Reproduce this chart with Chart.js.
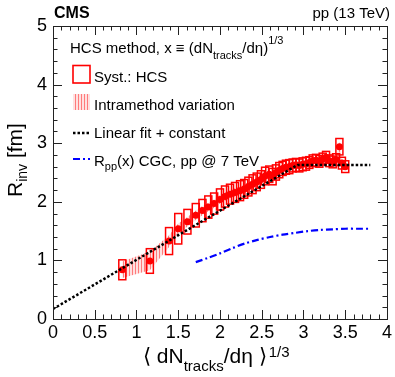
<!DOCTYPE html>
<html><head><meta charset="utf-8">
<script src="https://cdn.jsdelivr.net/npm/chart.js@4.4.1/dist/chart.umd.min.js"></script>
<style>html,body{margin:0;padding:0;background:#fff}#wrap{width:395px;height:377px}</style>
</head><body><div id="wrap"><canvas id="c" width="395" height="377"></canvas></div>
<script>
// ---- data ----
const hcsX = [0.83, 1.16, 1.39, 1.50, 1.61, 1.71, 1.79, 1.86, 1.93, 2.00, 2.06, 2.12, 2.18, 2.24, 2.29, 2.34, 2.39, 2.44, 2.49, 2.54, 2.59, 2.63, 2.67, 2.71, 2.75, 2.79, 2.83, 2.87, 2.91, 2.95, 2.99, 3.03, 3.07, 3.11, 3.15, 3.19, 3.23, 3.27, 3.31, 3.35, 3.39, 3.43, 3.46, 3.50];
const hcsY = [0.84, 0.99, 1.33, 1.54, 1.66, 1.77, 1.85, 1.91, 1.97, 2.04, 2.09, 2.13, 2.16, 2.19, 2.22, 2.26, 2.30, 2.34, 2.38, 2.44, 2.47, 2.43, 2.50, 2.54, 2.57, 2.59, 2.60, 2.62, 2.63, 2.62, 2.64, 2.65, 2.67, 2.70, 2.71, 2.69, 2.73, 2.76, 2.70, 2.68, 2.72, 2.94, 2.66, 2.60];
const systErr = [0.17, 0.21, 0.23, 0.26, 0.21, 0.20, 0.19, 0.19, 0.18, 0.18, 0.18, 0.17, 0.17, 0.17, 0.16, 0.16, 0.16, 0.15, 0.15, 0.15, 0.14, 0.14, 0.13, 0.13, 0.12, 0.12, 0.12, 0.11, 0.11, 0.11, 0.11, 0.11, 0.10, 0.10, 0.10, 0.10, 0.10, 0.10, 0.10, 0.10, 0.10, 0.14, 0.10, 0.10];
const intraErr = [0.14, 0.16, 0.10, 0.09, 0.08, 0.08, 0.08, 0.07, 0.07, 0.07, 0.07, 0.07, 0.07, 0.07, 0.07, 0.07, 0.07, 0.06, 0.06, 0.06, 0.06, 0.06, 0.06, 0.06, 0.06, 0.06, 0.06, 0.06, 0.06, 0.06, 0.06, 0.06, 0.06, 0.06, 0.06, 0.06, 0.06, 0.06, 0.06, 0.06, 0.06, 0.08, 0.06, 0.06];
const fitX = [0, 2.93, 3.8];
const fitY = [0.17, 2.63, 2.63];
const cgcX = [1.71, 1.85, 2.00, 2.15, 2.30, 2.45, 2.60, 2.75, 2.90, 3.05, 3.20, 3.35, 3.50, 3.65, 3.79];
const cgcY = [0.97, 1.04, 1.12, 1.21, 1.29, 1.35, 1.40, 1.44, 1.47, 1.50, 1.52, 1.53, 1.54, 1.54, 1.54];
const xTicks = [0, 0.5, 1, 1.5, 2, 2.5, 3, 3.5, 4];
const yTicks = [0, 1, 2, 3, 4, 5];

const FONT = '"Liberation Sans", Arial, sans-serif';
const RED = '#ff0000';

function hatchPattern() {
  const p = document.createElement('canvas');
  p.width = 3; p.height = 3;
  const g = p.getContext('2d');
  g.fillStyle = 'rgba(255,170,170,0.35)';
  g.fillRect(0, 0, 3, 3);
  g.fillStyle = 'rgba(255,40,40,0.55)';
  g.fillRect(0, 0, 1, 3);
  return g.createPattern(p, 'repeat');
}
const hatch = hatchPattern();

function pts(xs, ys) { return xs.map((x, i) => ({x: x, y: ys[i]})); }

function drawRich(ctx, x, y, segs) {
  for (const s of segs) {
    ctx.font = (s.b ? 'bold ' : '') + s.s + 'px ' + FONT;
    ctx.fillText(s.t, x, y + (s.dy || 0));
    x += ctx.measureText(s.t).width + (s.gap || 0);
  }
  return x;
}

const boxesPlugin = {
  id: 'boxes',
  afterDatasetDraw(chart, args) {
    if (args.index !== 1) return;
    const ctx = chart.ctx, xs = chart.scales.x, ys = chart.scales.y;
    ctx.save();
    ctx.strokeStyle = RED;
    ctx.lineWidth = 1.5;
    for (let i = 0; i < hcsX.length; i++) {
      const x0 = xs.getPixelForValue(hcsX[i] - 0.042), x1 = xs.getPixelForValue(hcsX[i] + 0.042);
      const y0 = ys.getPixelForValue(hcsY[i] + systErr[i]), y1 = ys.getPixelForValue(hcsY[i] - systErr[i]);
      ctx.strokeRect(x0, y0, x1 - x0, y1 - y0);
    }
    ctx.restore();
  }
};

const framePlugin = {
  id: 'frame',
  afterDraw(chart) {
    const ctx = chart.ctx, a = chart.chartArea, xs = chart.scales.x, ys = chart.scales.y;
    ctx.save();
    ctx.strokeStyle = '#222';
    ctx.lineWidth = 1;
    ctx.strokeRect(a.left + 0.5, a.top + 0.5, a.right - a.left, a.bottom - a.top);
    ctx.beginPath();
    for (let k = 0; k <= 40; k++) {
      const v = k / 10;
      const px = Math.round(xs.getPixelForValue(v)) + 0.5;
      const L = (k % 5 === 0) ? 9 : 4.5;
      ctx.moveTo(px, a.bottom); ctx.lineTo(px, a.bottom - L);
      ctx.moveTo(px, a.top); ctx.lineTo(px, a.top + L);
    }
    for (let k = 0; k <= 25; k++) {
      const v = k / 5;
      const py = Math.round(ys.getPixelForValue(v)) + 0.5;
      const L = (k % 5 === 0) ? 9 : 4.5;
      ctx.moveTo(a.left, py); ctx.lineTo(a.left + L, py);
      ctx.moveTo(a.right, py); ctx.lineTo(a.right - L, py);
    }
    ctx.stroke();

    // texts
    ctx.fillStyle = '#000';
    ctx.textBaseline = 'alphabetic';
    ctx.textAlign = 'left';
    drawRich(ctx, 54, 18, [{t: 'CMS', s: 16, b: true}]);
    ctx.font = '15px ' + FONT;
    ctx.textAlign = 'right';
    ctx.fillText('pp (13 TeV)', 390, 18);
    ctx.textAlign = 'left';

    // x title
    drawRich(ctx, 143, 363, [
      {t: '\u27E8 dN', s: 21}, {t: 'tracks', s: 15, dy: 8}, {t: '/d\u03B7 \u27E9', s: 21, gap: 2}, {t: '1/3', s: 15, dy: -6}
    ]);
    // y title
    ctx.save();
    ctx.translate(22, 197);
    ctx.rotate(-Math.PI / 2);
    drawRich(ctx, 0, 0, [{t: 'R', s: 21}, {t: 'inv', s: 14, dy: 5}, {t: ' [fm]', s: 21}]);
    ctx.restore();

    // legend
    drawRich(ctx, 70, 53, [
      {t: 'HCS method, x \u2261 (dN', s: 15}, {t: 'tracks', s: 11, dy: 6}, {t: '/d\u03B7)', s: 15}, {t: '1/3', s: 11, dy: -9}
    ]);
    ctx.strokeStyle = RED; ctx.lineWidth = 1.6;
    ctx.strokeRect(73, 65.5, 17, 17.5);
    drawRich(ctx, 94, 82, [{t: 'Syst.: HCS', s: 15}]);
    ctx.fillStyle = hatch;
    ctx.fillRect(73, 94, 17, 16);
    ctx.fillStyle = '#000';
    drawRich(ctx, 94, 110, [{t: 'Intramethod variation', s: 15}]);
    ctx.strokeStyle = '#000'; ctx.lineWidth = 2.5; ctx.setLineDash([2.5, 2]);
    ctx.beginPath(); ctx.moveTo(73, 133); ctx.lineTo(90, 133); ctx.stroke();
    drawRich(ctx, 94, 137.5, [{t: 'Linear fit + constant', s: 15}]);
    ctx.strokeStyle = '#0000ff'; ctx.lineWidth = 2.2; ctx.setLineDash([7, 3, 2, 3]);
    ctx.beginPath(); ctx.moveTo(73, 159); ctx.lineTo(90, 159); ctx.stroke();
    ctx.setLineDash([]);
    drawRich(ctx, 94, 166, [{t: 'R', s: 15}, {t: 'pp', s: 11, dy: 4}, {t: '(x) CGC, pp @ 7 TeV', s: 15}]);
    ctx.restore();
  }
};

const lowBand = hcsX.map((x, i) => ({x: x, y: hcsY[i] - intraErr[i]}));
const highBand = hcsX.map((x, i) => ({x: x, y: hcsY[i] + intraErr[i]}));

new Chart(document.getElementById('c'), {
  type: 'scatter',
  data: {
    datasets: [
      {label: 'intraLow', data: lowBand, showLine: true, borderWidth: 0, borderColor: 'rgba(0,0,0,0)', pointRadius: 0, order: 6, fill: false},
      {label: 'intraHigh', data: highBand, showLine: true, borderWidth: 0, borderColor: 'rgba(0,0,0,0)', pointRadius: 0, order: 5, fill: 0, backgroundColor: hatch},
      {label: 'CGC', data: pts(cgcX, cgcY), showLine: true, borderColor: '#0000ff', borderWidth: 2.2, borderDash: [7, 3, 2, 3], pointRadius: 0, order: 3, tension: 0.3},
      {label: 'HCS', data: pts(hcsX, hcsY), showLine: false, pointRadius: 3.5, pointBackgroundColor: RED, pointBorderWidth: 0, pointBorderColor: RED, order: 2},
      {label: 'fit', data: pts(fitX, fitY), showLine: true, borderColor: '#000', borderWidth: 2.5, borderDash: [2.5, 2], pointRadius: 0, order: 1}
    ]
  },
  options: {
    responsive: false, animation: false, devicePixelRatio: 1,
    layout: {padding: {top: 26, right: 5, left: 0, bottom: 0}},
    plugins: {legend: {display: false}, tooltip: {enabled: false}},
    scales: {
      x: {
        type: 'linear', min: 0, max: 4,
        afterBuildTicks: s => { s.ticks = xTicks.map(v => ({value: v})); },
        afterFit: s => { s.height = 58; },
        grid: {display: false, drawTicks: false}, border: {display: false},
        ticks: {font: {family: FONT, size: 18}, color: '#000', padding: 3, maxRotation: 0, autoSkip: false, callback: v => String(v)}
      },
      y: {
        type: 'linear', min: 0, max: 5,
        afterBuildTicks: s => { s.ticks = yTicks.map(v => ({value: v})); },
        afterFit: s => { s.width = 53; },
        grid: {display: false, drawTicks: false}, border: {display: false},
        ticks: {font: {family: FONT, size: 18}, color: '#000', padding: 6, autoSkip: false, callback: v => String(v)}
      }
    }
  },
  plugins: [boxesPlugin, framePlugin]
});
</script></body></html>
